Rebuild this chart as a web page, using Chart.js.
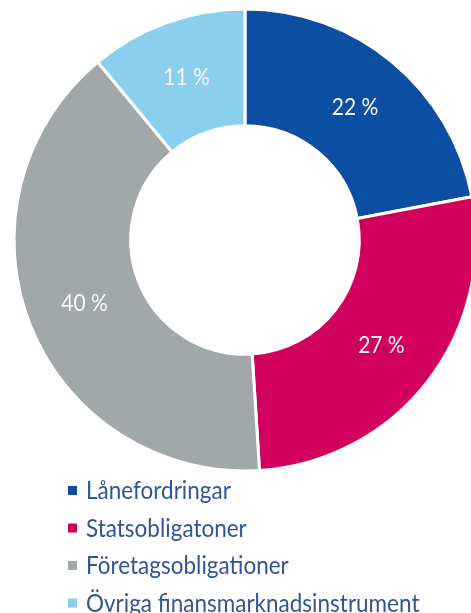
<!DOCTYPE html>
<html>
<head>
<meta charset="utf-8">
<script src="https://cdn.jsdelivr.net/npm/chart.js@4"></script>
<style>
  html, body { margin: 0; padding: 0; background: #fff; overflow: hidden; }
  #wrap { position: relative; width: 490px; height: 613px; }
</style>
</head>
<body>
<div id="wrap"><canvas id="chart"></canvas></div>
<script>
const labels = ['Lånefordringar', 'Statsobligatoner', 'Företagsobligationer', 'Övriga finansmarknadsinstrument'];
const values = [22, 27, 40, 11];
const colors = ['#0B4EA2', '#D2005D', '#A2A7AA', '#8ACFEE'];

// procent-etiketter i ringen
const sliceLabels = {
    id: 'sliceLabels',
    afterDatasetsDraw(chart) {
        const { ctx } = chart;
        const meta = chart.getDatasetMeta(0);
        ctx.save();
        ctx.font = '21px Lato';
        ctx.fillStyle = '#f4f7fb';
        ctx.textAlign = 'center';
        ctx.textBaseline = 'middle';
        meta.data.forEach((arc, i) => {
            const p = arc.tooltipPosition();
            // lite högre text, som i originalet
            ctx.save();
            ctx.translate(p.x, p.y);
            ctx.scale(1, 1.12);
            ctx.fillText(values[i] + ' %', 0, 0);
            ctx.restore();
        });
        ctx.restore();
    }
};

// legend i en kolumn under ringen
const columnLegend = {
    id: 'columnLegend',
    afterDraw(chart) {
        const { ctx } = chart;
        ctx.save();
        ctx.font = '22.5px Lato';
        ctx.textBaseline = 'middle';
        labels.forEach((lab, i) => {
            const y = 490 + i * 37.5;
            ctx.fillStyle = colors[i];
            ctx.fillRect(68, y - 4, 9, 9);
            ctx.fillStyle = '#2F5597';
            ctx.save();
            ctx.translate(86, y + 1);
            ctx.scale(1, 1.12);
            ctx.fillText(lab, 0, 0);
            ctx.restore();
        });
        ctx.restore();
    }
};

const config = {
    type: 'doughnut',
    data: {
        labels: labels,
        datasets: [{
            data: values,
            backgroundColor: colors,
            borderColor: '#ffffff',
            borderWidth: 3,
            hoverOffset: 0
        }]
    },
    options: {
        responsive: false,
        animation: false,
        radius: 231,
        cutout: 118,
        layout: { padding: { top: 0, bottom: 133, left: 0, right: 0 } },
        plugins: {
            legend: { display: false },
            tooltip: { enabled: false }
        }
    },
    plugins: [sliceLabels, columnLegend]
};

const canvas = document.getElementById('chart');
canvas.width = 490;
canvas.height = 613;
new Chart(canvas, config);
</script>
</body>
</html>
